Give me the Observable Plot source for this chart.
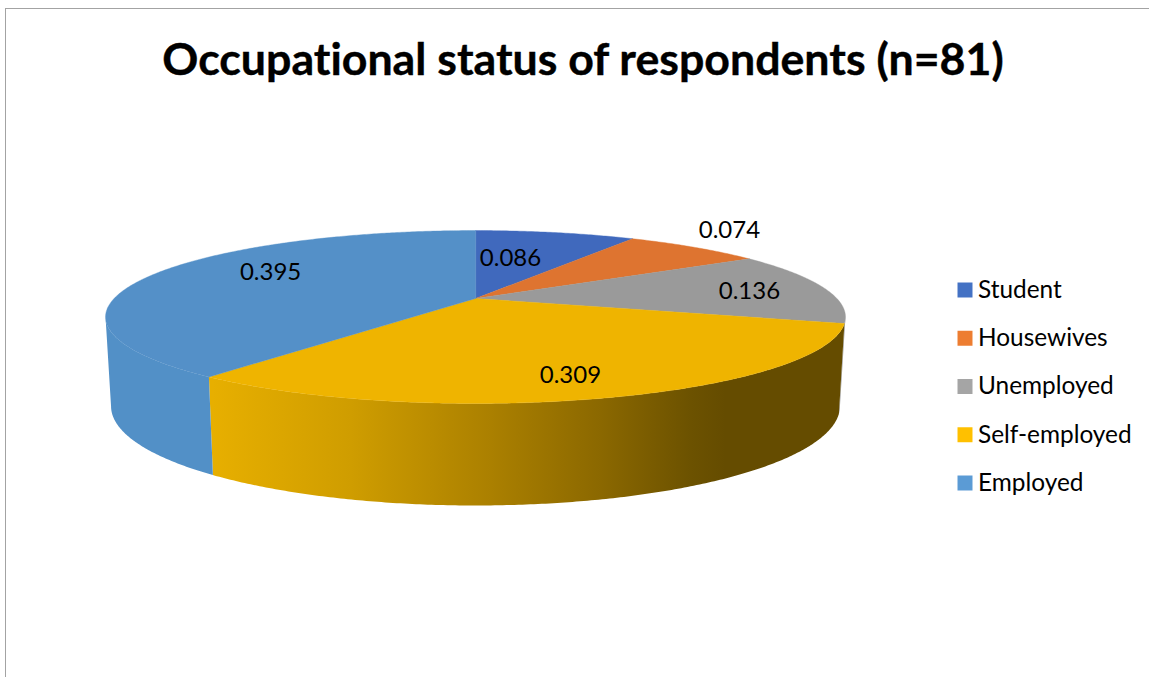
<!DOCTYPE html>
<html>
<head>
<meta charset="utf-8">
<script src="https://cdn.jsdelivr.net/npm/d3@7"></script>
<script src="https://cdn.jsdelivr.net/npm/@observablehq/plot@0.6"></script>
<style>
html,body{margin:0;padding:0;background:#fff;overflow:hidden;width:1149px;height:677px}
#frame{position:absolute;left:5px;top:8px;width:1144px;height:669px;border-left:1.5px solid #a3a3a3;border-top:1px solid #a3a3a3;box-sizing:border-box}
#title{position:absolute;left:0;top:32px;width:1166px;text-align:center;font:700 44.7px Lato,sans-serif;font-variant-ligatures:none;color:#000;line-height:52px;white-space:nowrap;-webkit-text-stroke:0.4px #000}
#chart{position:absolute;left:0;top:100px}
#chart svg{display:block}
</style>
</head>
<body>
<div id="frame"></div>
<div id="title">Occupational status of respondents (n=81)</div>
<div id="chart"></div>
<script>
const categories = ["Student", "Housewives", "Unemployed", "Self-employed", "Employed"];
const values = [0.086, 0.074, 0.136, 0.309, 0.395];
const valueLabels = ["0.086", "0.074", "0.136", "0.309", "0.395"];
const topColors = ["#4069bd", "#de7430", "#9a9a9a", "#efb400", "#5490c8"];
const legendColors = ["#4472c4", "#ed7d31", "#a5a5a5", "#ffc000", "#5b9bd5"];

// Perspective of the disc, in screen units
const top3d = {cx: 475, cy: 298, a: 361.4, b: 82.5, k: 0.214};
const base3d = {cx: 475, cy: 384.5, a: 356, b: 94.7, k: 0.214};
// Where each value label sits on the disc plane (unit circle coordinates)
const labelSpots = [[0.108, 0.541], [0.853, 1.0], [0.772, 0.087], [0.219, -0.778], [-0.608, 0.338]];

function project(p, u, v) {
  const w = 1 + p.k * v;
  return [p.cx + p.a * u / w, p.cy - p.b * v / w];
}
const rad = d => d * Math.PI / 180;
const rim = (p, deg) => project(p, Math.sin(rad(deg)), Math.cos(rad(deg)));

// The wall is visible between the two angles where the rim turns back in x
const wallFrom = Math.acos(-top3d.k) * 180 / Math.PI;
const wallTo = 360 - wallFrom;

// Slice angle spans from the values
let acc = 0;
const slices = categories.map((name, i) => {
  const start = acc * 360;
  acc += values[i];
  return {name, i, start, end: acc * 360};
});

const sweep = (a, b) => {
  const out = [];
  for (let d = a; d < b; d += 0.5) out.push(d);
  out.push(b);
  return out;
};

const topPts = [];
for (const s of slices) {
  const [cx, cy] = project(top3d, 0, 0);
  topPts.push({id: s.name, x: cx, y: cy, c: topColors[s.i]});
  for (const d of sweep(s.start, s.end)) {
    const [x, y] = rim(top3d, d);
    topPts.push({id: s.name, x, y, c: topColors[s.i]});
  }
}

// Horizontal shading of the self-employed wall
const goldStopsX = [212, 350, 490, 600, 690, 725];
const goldStopsC = ["#e7af00", "#cf9d00", "#ab8000", "#8b6800", "#6c5200", "#654c00"];
const wallFill = {"Self-employed": "url(#goldWall)"};

const wallPts = [];
for (const s of slices) {
  const a = Math.max(s.start, wallFrom), b = Math.min(s.end, wallTo);
  if (a >= b) continue;
  const c = wallFill[s.name] || (s.name === "Employed" ? "#5290c7" : topColors[s.i]);
  const ds = sweep(a, b);
  for (const d of ds) {
    const [x, y] = rim(top3d, d);
    wallPts.push({id: s.name, x, y, c});
  }
  for (const d of ds.slice().reverse()) {
    const [x, y] = rim(base3d, d);
    wallPts.push({id: s.name, x, y, c});
  }
}

const labelPts = labelSpots.map(([u, v], i) => {
  const [x, y] = project(top3d, u, v);
  return {x, y, t: valueLabels[i]};
});

const legendRow = categories.map((name, i) => ({name, c: legendColors[i], x: 964.5, tx: 977.5, y: 289.5 + i * 48.25}));

const gradientDefs = () => {
  const defs = d3.create("svg:defs");
  const g = defs.append("linearGradient")
    .attr("id", "goldWall")
    .attr("gradientUnits", "userSpaceOnUse")
    .attr("x1", goldStopsX[0]).attr("x2", goldStopsX[goldStopsX.length - 1])
    .attr("y1", 0).attr("y2", 0);
  const span = goldStopsX[goldStopsX.length - 1] - goldStopsX[0];
  goldStopsX.forEach((x, i) => {
    g.append("stop").attr("offset", (x - goldStopsX[0]) / span).attr("stop-color", goldStopsC[i]);
  });
  return defs.node();
};

const plot = Plot.plot({
  width: 1149,
  height: 577,
  margin: 0,
  style: {background: "transparent"},
  x: {domain: [0, 1149], axis: null},
  y: {domain: [677, 100], axis: null},
  color: {type: "identity"},
  marks: [
    gradientDefs,
    Plot.line(wallPts, {x: "x", y: "y", z: "id", fill: "c", stroke: "none", curve: "linear-closed"}),
    Plot.line(topPts, {x: "x", y: "y", z: "id", fill: "c", stroke: "c", strokeWidth: 0.4, curve: "linear-closed"}),
    Plot.text(labelPts, {x: "x", y: "y", text: "t", fontSize: 24, fontFamily: "Lato, sans-serif", fill: "#000", textAnchor: "middle"}),
    Plot.dot(legendRow, {x: "x", y: "y", symbol: "square", r: 8.46, fill: "c", stroke: "none"}),
    Plot.text(legendRow, {x: "tx", y: "y", text: "name", fontSize: 24.4, fontFamily: "Lato, sans-serif", fill: "#000", textAnchor: "start"})
  ]
});
document.getElementById("chart").appendChild(plot);
</script>
</body>
</html>
